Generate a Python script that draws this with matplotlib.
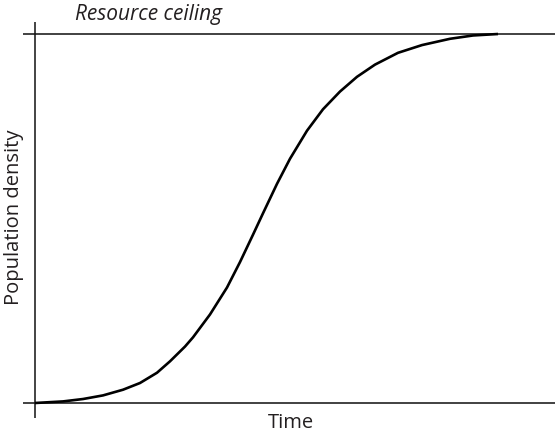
import matplotlib
matplotlib.use("Agg")
import matplotlib.pyplot as plt

# Data (time and density in % of range)
time = [0, 6.05, 10.37, 14.69, 19.01, 22.68, 26.35, 29.16, 32.4, 34.13, 37.80, 41.47,
        44.28, 47.08, 49.24, 52.27, 55.08, 58.75, 62.20, 65.87, 69.55, 73.43, 78.40,
        83.59, 89.63, 94.60, 100]
density = [0, 0.43, 1.08, 2.06, 3.60, 5.42, 8.2, 11.3, 15.3, 17.8, 24.0, 31.3,
           38.2, 45.6, 51.4, 59.4, 66.2, 73.8, 79.6, 84.4, 88.4, 91.7, 94.9,
           97.0, 98.7, 99.6, 100]

ceiling_label = "Resource ceiling"
x_label = "Time"
y_label = "Population density"

W, H = 555, 434
fig = plt.figure(figsize=(W / 100, H / 100), dpi=100)
left, right, bottom_px, top_px = 35, 498, 403, 34
ax = fig.add_axes([left / W, (H - bottom_px) / H, (right - left) / W, (bottom_px - top_px) / H])
ax.set_xlim(0, 100)
ax.set_ylim(0, 100)
ax.axis("off")

axis_col = "#333333"
# axis lines
ax.plot([-2.6, 112.3], [0, 0], color=axis_col, lw=1.3, clip_on=False, solid_capstyle="butt")
ax.plot([-2.6, 112.3], [100, 100], color=axis_col, lw=1.3, clip_on=False, solid_capstyle="butt")
ax.plot([0, 0], [-4.1, 103.3], color="#111111", lw=1.1, clip_on=False, solid_capstyle="butt")

# curve
ax.plot(time, density, color="black", lw=1.9, clip_on=False, solid_capstyle="butt",
        solid_joinstyle="round")

font = "Open Sans"
txt_col = "#231f20"
fig.text(75 / W, 1 - 20 / H, ceiling_label, fontstyle="italic", family=font, fontsize=15,
         color=txt_col, ha="left", va="baseline")
fig.text(291 / W, 1 - 428 / H, x_label, family=font, fontsize=14.5, color=txt_col,
         ha="center", va="baseline")
fig.text(4 / W, 1 - 217 / H, y_label, family=font, fontsize=14.5, color=txt_col,
         rotation=90, ha="left", va="center")

fig.savefig("out.png", dpi=100)
